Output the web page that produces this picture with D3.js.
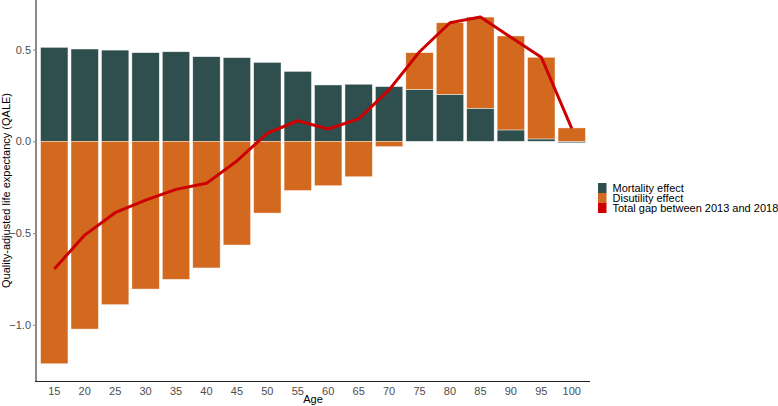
<!DOCTYPE html>
<html>
<head>
<meta charset="utf-8">
<script src="https://cdn.jsdelivr.net/npm/d3@7"></script>
<style>
  html, body { margin: 0; padding: 0; background: #fff; }
  svg { display: block; font-family: "Liberation Sans", Arial, Helvetica, sans-serif; }
</style>
</head>
<body>
<svg id="chart" width="778" height="406"></svg>
<script>
const ages = ["15","20","25","30","35","40","45","50","55","60","65","70","75","80","85","90","95","100"];
const mortality = [0.512,0.503,0.497,0.483,0.488,0.461,0.456,0.430,0.381,0.307,0.311,0.298,0.283,0.256,0.180,0.062,0.013,-0.008];
const disutility = [-1.212,-1.023,-0.890,-0.805,-0.752,-0.690,-0.565,-0.391,-0.268,-0.242,-0.193,-0.029,0.200,0.390,0.497,0.512,0.445,0.073];
const totalGap = [-0.696,-0.511,-0.389,-0.320,-0.262,-0.229,-0.107,0.044,0.112,0.067,0.122,0.280,0.488,0.646,0.677,0.567,0.458,0.071];
const yTicks = [-1.0,-0.5,0.0,0.5];
const seriesNames = ["Mortality effect","Disutility effect","Total gap between 2013 and 2018"];
const colors = ["#2F4F4F","#D2691E","#CC0000"];

const svg = d3.select("#chart");
const pLeft = 36, pRight = 590, pTop = 0, pBottom = 381;

const x = d3.scaleBand().domain(ages).range([pLeft, pRight]).paddingInner(0.1).paddingOuter(0.15);
const y = d3.scaleLinear().domain([-1.306, 0.77]).range([pBottom, pTop]);

const segs = [];
ages.forEach((a, i) => {
  let pos = 0, neg = 0;
  [[mortality[i], 0], [disutility[i], 1]].forEach(([v, k]) => {
    if (v >= 0) { segs.push({a, y0: pos, y1: pos + v, k}); pos += v; }
    else { segs.push({a, y0: neg + v, y1: neg, k}); neg += v; }
  });
});

svg.append("g").selectAll("rect").data(segs).join("rect")
  .attr("x", d => x(d.a))
  .attr("width", x.bandwidth())
  .attr("y", d => y(d.y1))
  .attr("height", d => Math.max(0, y(d.y0) - y(d.y1)))
  .attr("fill", d => colors[d.k])
  .attr("stroke", "#ffffff")
  .attr("stroke-opacity", 0.7)
  .attr("stroke-width", 0.6);

const line = d3.line().x((d, i) => x(ages[i]) + x.bandwidth() / 2).y(d => y(d));
svg.append("path").datum(totalGap)
  .attr("d", line)
  .attr("fill", "none")
  .attr("stroke", colors[2])
  .attr("stroke-width", 3)
  .attr("stroke-linejoin", "round");

const yAxis = d3.axisLeft(y).tickValues(yTicks).tickSize(3).tickPadding(2)
  .tickFormat(d => (d < 0 ? "\u2212" : "") + Math.abs(d).toFixed(1));
const gy = svg.append("g").attr("transform", `translate(${pLeft},0)`).call(yAxis);
gy.select(".domain").remove();
gy.selectAll(".tick line").attr("stroke", "#8a8a8a").attr("stroke-width", 1);
gy.selectAll(".tick text").attr("fill", "#4d4d4d").attr("font-size", 11);
svg.append("line").attr("x1", pLeft).attr("x2", pLeft).attr("y1", 0).attr("y2", pBottom)
  .attr("stroke", "#8a8a8a").attr("stroke-width", 2);

const xAxis = d3.axisBottom(x).tickSize(0).tickPadding(6);
const gx = svg.append("g").attr("transform", `translate(0,${pBottom})`).call(xAxis);
gx.select(".domain").remove();
gx.selectAll(".tick text").attr("fill", "#4d4d4d").attr("font-size", 11);
svg.append("line").attr("x1", pLeft - 1).attr("x2", pRight).attr("y1", pBottom + 0.5).attr("y2", pBottom + 0.5)
  .attr("stroke", "#222").attr("stroke-width", 1);

svg.append("text").attr("x", (pLeft + pRight) / 2).attr("y", 403).attr("text-anchor", "middle")
  .attr("font-size", 11).attr("fill", "#000").text("Age");
svg.append("text").attr("transform", `translate(10,${(pTop + pBottom) / 2}) rotate(-90)`)
  .attr("text-anchor", "middle").attr("font-size", 11).attr("fill", "#000")
  .text("Quality-adjusted life expectancy (QALE)");

const lg = svg.append("g").attr("transform", "translate(598,183)");
seriesNames.forEach((n, i) => {
  lg.append("rect").attr("x", 0).attr("y", i * 10).attr("width", 8.5).attr("height", 10).attr("fill", colors[i]);
  lg.append("text").attr("x", 14.5).attr("y", i * 10 + 5).attr("dy", "0.35em")
    .attr("font-size", 11).attr("fill", "#000").text(n);
});
</script>
</body>
</html>
